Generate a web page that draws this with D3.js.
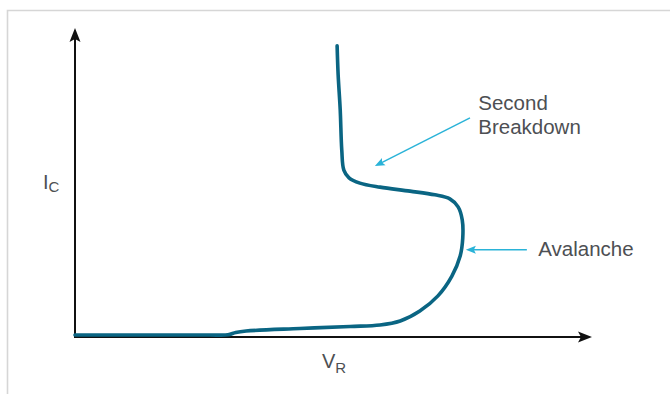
<!DOCTYPE html>
<html><head><meta charset="utf-8">
<script src="https://cdn.jsdelivr.net/npm/d3@7"></script>
<style>html,body{margin:0;padding:0;background:#fff;}svg{display:block;}</style>
</head><body>
<svg id="chart" width="670" height="394"></svg>
<script>
// Characteristic curve (schematic, normalised units 0..100)
const vrValues = [0, 10, 20, 26, 29.6, 31.1, 33.1, 43.5, 53.2, 59.0, 62.9, 66.7, 70.2, 72.9, 74.5, 75.0, 74.9, 74.1, 72.5, 69.6, 64.8, 59.0, 55.1, 53.0, 52.0, 51.6, 51.3, 50.9, 50.7];
const icValues = [0.65, 0.65, 0.65, 0.65, 0.7, 1.46, 1.94, 2.75, 3.40, 3.88, 5.18, 8.41, 13.3, 19.7, 26.2, 32.0, 37.9, 42.1, 44.7, 46.0, 47.2, 48.5, 49.8, 51.5, 54.0, 60.5, 73.5, 84.8, 94.2];

// Annotations
const annLabels = [["Second", "Breakdown"], ["Avalanche"]];
const annFromX = [76.4, 87.4];
const annFromY = [70.9, 28.2];
const annToX = [58.0, 75.6];
const annToY = [55.3, 28.2];
const annTextX = [78.0, 89.6];
const annTextY = [73.6, 26.2];

// Axis labels
const axisLabels = [{main: "I", sub: "C"}, {main: "V", sub: "R"}];

const svg = d3.select("#chart");
const x = d3.scaleLinear().domain([0, 100]).range([75, 592]);
const y = d3.scaleLinear().domain([0, 100]).range([337, 28]);

// frame
svg.append("path").attr("d", "M7.5,394 V10.5 H670").attr("fill", "none")
  .attr("stroke", "#d6d6d6").attr("stroke-width", 1.6);

// axes
const axisColor = "#111";
svg.append("line").attr("x1", x(0)).attr("y1", y(0)).attr("x2", x(0)).attr("y2", y(100) + 8)
  .attr("stroke", axisColor).attr("stroke-width", 2);
svg.append("line").attr("x1", x(0) - 1).attr("y1", y(0)).attr("x2", x(100) - 8).attr("y2", y(0))
  .attr("stroke", axisColor).attr("stroke-width", 2);
// arrowheads
function head(tx, ty, angle, len, hw, notch, color) {
  const p = [[0, 0], [-len, -hw], [-len + notch, 0], [-len, hw]];
  const c = Math.cos(angle), s = Math.sin(angle);
  const pts = p.map(([a, b]) => [tx + a * c - b * s, ty + a * s + b * c]);
  return svg.append("path").attr("d", "M" + pts.map(q => q.join(",")).join("L") + "Z").attr("fill", color);
}
head(x(0), y(100), -Math.PI / 2, 14, 5.5, 3, axisColor);
head(x(100), y(0), 0, 14, 5.5, 3, axisColor);

// curve
const pts = vrValues.map((v, i) => [v, icValues[i]]);
svg.append("path").datum(pts)
  .attr("d", d3.line().x(d => x(d[0])).y(d => y(d[1])).curve(d3.curveCatmullRom.alpha(0.5)))
  .attr("fill", "none").attr("stroke", "#0a6583").attr("stroke-width", 3.6)
  .attr("stroke-linecap", "round").attr("stroke-linejoin", "round");

// annotations
const annColor = "#2ab3d8";
const textColor = "#4d4f53";
const font = "Liberation Sans, Arial, Helvetica, sans-serif";
annLabels.forEach((lines, i) => {
  const x1 = x(annFromX[i]), y1 = y(annFromY[i]), x2 = x(annToX[i]), y2 = y(annToY[i]);
  const ang = Math.atan2(y2 - y1, x2 - x1);
  svg.append("line").attr("x1", x1).attr("y1", y1)
    .attr("x2", x2 - 6 * Math.cos(ang)).attr("y2", y2 - 6 * Math.sin(ang))
    .attr("stroke", annColor).attr("stroke-width", 1.5);
  head(x2, y2, ang, 10, 4, 2, annColor);
  const t = svg.append("text").attr("x", x(annTextX[i])).attr("y", y(annTextY[i]))
    .attr("font-family", font).attr("font-size", 20.5).attr("fill", textColor);
  lines.forEach((l, j) => t.append("tspan").attr("x", x(annTextX[i])).attr("dy", j === 0 ? 0 : 24).text(l));
});

// axis labels
const yl = svg.append("text").attr("x", 43).attr("y", 189).attr("font-family", font)
  .attr("font-size", 20).attr("fill", textColor);
yl.append("tspan").text(axisLabels[0].main);
yl.append("tspan").attr("dy", 3).attr("font-size", 15).text(axisLabels[0].sub);
const xl = svg.append("text").attr("x", 322).attr("y", 368).attr("font-family", font)
  .attr("font-size", 20).attr("fill", textColor);
xl.append("tspan").text(axisLabels[1].main);
xl.append("tspan").attr("dy", 5).attr("font-size", 15).text(axisLabels[1].sub);
</script>
</body></html>
